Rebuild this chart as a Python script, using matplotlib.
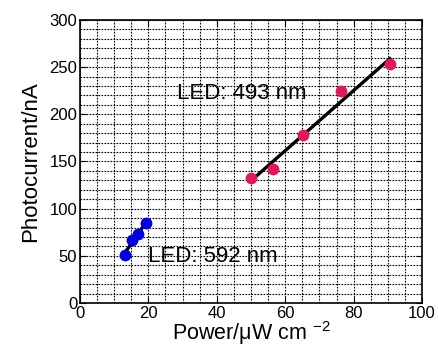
import numpy as np
import matplotlib
matplotlib.use("Agg")
from matplotlib import pyplot as plt
from matplotlib.ticker import MultipleLocator

plt.rcParams['font.family'] = ['Liberation Sans', 'DejaVu Sans']
plt.rcParams['mathtext.default'] = 'regular'

# LED 592 nm (blue points)
power_592 = [13.1, 15.1, 17.1, 19.3]
current_592 = [51, 67, 73, 85]

# LED 493 nm (red points)
power_493 = [49.9, 56.3, 65.3, 76.4, 90.6]
current_493 = [132, 142, 178, 225, 253]

fig = plt.figure(figsize=(4.38, 3.49), dpi=100)
ax = fig.add_axes([0.1826, 0.1318, 0.7809, 0.8109])

# linear fits
for px, cy in [(power_592, current_592), (power_493, current_493)]:
    coef = np.polyfit(px, cy, 1)
    xs = np.array([min(px), max(px)])
    ax.plot(xs, np.polyval(coef, xs), color='black', lw=2.4, zorder=3)

ax.plot(power_592, current_592, 'o', color='#0000dd', ms=8.5, mec='none', zorder=4)
ax.plot(power_493, current_493, 'o', color='#e0195a', ms=8.5, mec='none', zorder=4)

ax.text(19.9, 49, "LED: 592 nm", fontsize=16, va='center', ha='left')
ax.text(28.4, 222, "LED: 493 nm", fontsize=16, va='center', ha='left')

ax.set_xlim(0, 100)
ax.set_ylim(0, 300)
ax.xaxis.set_major_locator(MultipleLocator(20))
ax.yaxis.set_major_locator(MultipleLocator(50))
ax.xaxis.set_minor_locator(MultipleLocator(5))
ax.yaxis.set_minor_locator(MultipleLocator(10))
ax.grid(which='both', color='black', linestyle=(0, (1.5, 1.2)), lw=0.8)
ax.set_axisbelow(True)

ax.tick_params(which='major', direction='in', length=4, top=True, right=True, labelsize=12, pad=2)
ax.tick_params(which='minor', length=0)
for s in ax.spines.values():
    s.set_linewidth(1.2)

ax.set_xlabel("Power/μW cm $^{-2}$", fontsize=15.5, labelpad=-1)
ax.set_ylabel("Photocurrent/nA", fontsize=16, labelpad=6)

fig.savefig("out.png", dpi=100)
